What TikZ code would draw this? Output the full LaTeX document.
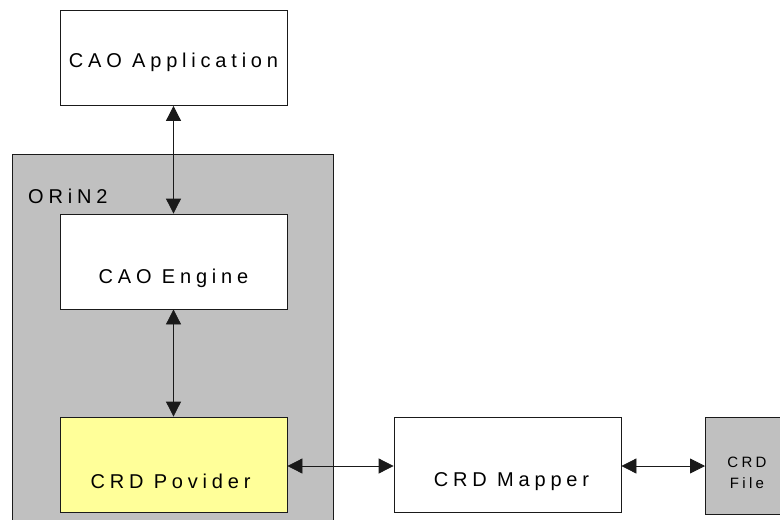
\documentclass[tikz,border=0pt]{standalone}
\usepackage{fontspec}
\setmainfont{Liberation Sans}
\newfontfamily\spacedfont[LetterSpace=24]{Liberation Sans}
\newfontfamily\filefont[LetterSpace=22]{Liberation Sans}
\usetikzlibrary{arrows.meta}
\definecolor{boxgray}{HTML}{C0C0C0}
\definecolor{provyellow}{HTML}{FFFF99}
\definecolor{edge}{HTML}{1A1A1A}
\begin{document}
\begin{tikzpicture}[x=1pt,y=-1pt,
  box/.style={draw=edge,line width=0.8pt,minimum width=227pt,minimum height=95pt,inner sep=0pt,fill=white},
  txt/.style={font=\spacedfont\fontsize{20}{22}\selectfont,inner sep=0pt},
  smalltxt/.style={font=\filefont\fontsize{15}{21}\selectfont,inner sep=0pt,align=center},
  biarrow/.style={{Triangle[length=15pt,width=15pt]}-{Triangle[length=15pt,width=15pt]},line width=0.8pt,draw=edge,fill=black}]
\useasboundingbox (0,0) rectangle (780,520);
\clip (0,0) rectangle (780,520);
\fill[white] (0,0) rectangle (780,520);
% ORiN2 container
\node[draw=edge,line width=0.8pt,fill=boxgray,minimum width=321pt,minimum height=390pt,inner sep=0pt,anchor=north west] (orin) at (12,154) {};
\node[txt,anchor=west] (orinlbl) at (28,196) {ORiN2};
% boxes
\node[box] (app) at (173.5,58) {};
\node[txt] (apptxt) at ([yshift=-4pt]app.center) {CAO Application};
\node[box] (eng) at (173.5,261.5) {};
\node[txt] (engtxt) at ([yshift=-17pt]eng.center) {CAO Engine};
\node[box,fill=provyellow] (prov) at (173.5,464.5) {};
\node[txt] (provtxt) at ([xshift=-3pt,yshift=-17pt]prov.center) {CRD Povider};
\node[box] (map) at (507.5,464.5) {};
\node[txt] (maptxt) at ([xshift=4pt,yshift=-17pt]map.center) {CRD Mapper};
\node[box,fill=boxgray,minimum width=95pt,minimum height=97pt,anchor=north west] (file) at (705,417) {};
\node[smalltxt] (filetxt) at (747,473) {CRD\\File};
% connectors
\draw[biarrow] (app.south) -- (eng.north);
\draw[biarrow] (eng.south) -- (prov.north);
\draw[biarrow] ([yshift=-1.5pt]prov.east) -- ([yshift=-1.5pt]map.west);
\draw[biarrow] ([yshift=-1.5pt]map.east) -- ([yshift=-1.5pt]map.east -| file.west);
\end{tikzpicture}
\end{document}
